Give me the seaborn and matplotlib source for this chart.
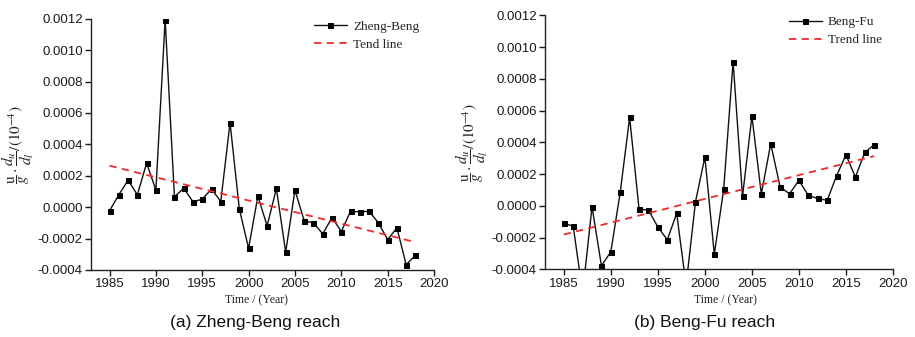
import numpy as np
import pandas as pd
import matplotlib
matplotlib.use("Agg")
import matplotlib.pyplot as plt
import seaborn as sns

# ---------------- data ----------------
years = list(range(1985, 2019))

zheng_beng = [-0.000023, 0.000079, 0.000172, 0.000079, 0.000281, 0.000109, 0.001194,
              0.000066, 0.000121, 0.000034, 0.000051, 0.000115, 0.000036, 0.000538,
              -0.000011, -0.000262, 0.000070, -0.000119, 0.000119, -0.000287, 0.000109,
              -0.000087, -0.000100, -0.000170, -0.000066, -0.000155, -0.000026, -0.000030,
              -0.000026, -0.000100, -0.000206, -0.000132, -0.000366, -0.000306]

beng_fu = [-0.000111, -0.000128, -0.000550, -0.000006, -0.000378, -0.000290, 0.000086,
           0.000557, -0.000021, -0.000027, -0.000134, -0.000214, -0.000048, -0.000500,
           0.000025, 0.000307, -0.000305, 0.000105, 0.000908, 0.000059, 0.000565,
           0.000074, 0.000391, 0.000118, 0.000076, 0.000160, 0.000065, 0.000046,
           0.000034, 0.000189, 0.000321, 0.000181, 0.000336, 0.000384]

trend_years = [1985, 2018]
trend_zb = [0.000264, -0.000223]
trend_bf = [-0.000181, 0.000313]

xtick_values = [1985, 1990, 1995, 2000, 2005, 2010, 2015, 2020]
xtick_labels = ["1985", "1990", "1995", "2000", "2005", "2010", "2015", "2020"]
ytick_values = [-0.0004, -0.0002, 0.0, 0.0002, 0.0004, 0.0006, 0.0008, 0.0010, 0.0012]
ytick_labels = ["-0.0004", "-0.0002", "0.0000", "0.0002", "0.0004", "0.0006",
                "0.0008", "0.0010", "0.0012"]

series_names = ["Zheng-Beng", "Beng-Fu"]
trend_names = ["Tend line", "Trend line"]
captions = ["(a) Zheng-Beng reach", "(b) Beng-Fu reach"]
xlabel_text = "Time / (Year)"
ylabel_text = r"$\dfrac{\mathrm{u}}{g}\cdot\dfrac{d_u}{d_l}/(10^{-4})$"

# ---------------- style ----------------
sns.set_style("ticks")
plt.rcParams["font.family"] = ["Liberation Sans", "DejaVu Sans"]
plt.rcParams["mathtext.fontset"] = "stix"
plt.rcParams["axes.unicode_minus"] = False

fig = plt.figure(figsize=(9.15, 3.37), dpi=100)
W, H = 915, 337

def px_axes(l, r, t, b):
    return fig.add_axes([l / W, 1 - b / H, (r - l) / W, (b - t) / H])

axes = [px_axes(91, 434, 18.7, 270), px_axes(545, 893, 15.3, 269.3)]
series = [zheng_beng, beng_fu]
trends = [trend_zb, trend_bf]
legend_pos = [(314, 20.5), (789, 16.0)]
caption_x = [255, 705]
xlabel_x = [256, 725]

for i, ax in enumerate(axes):
    df = pd.DataFrame({"year": years, "value": series[i]})
    sns.lineplot(data=df, x="year", y="value", ax=ax, color="#111111",
                 linewidth=1.0, marker="s", markersize=3.6,
                 markeredgecolor="black", markerfacecolor="black",
                 label=series_names[i], clip_on=True)
    tdf = pd.DataFrame({"year": trend_years, "value": trends[i]})
    sns.lineplot(data=tdf, x="year", y="value", ax=ax, color="#ee2a2a",
                 linewidth=1.3, dashes=False, label=trend_names[i])
    ax.lines[-1].set_dashes((4, 3))

    ax.set_xlim(1983, 2020)
    ax.set_ylim(-0.0004, 0.0012)
    ax.set_xticks(xtick_values)
    ax.set_xticklabels(xtick_labels)
    ax.set_yticks(ytick_values)
    ax.set_yticklabels(ytick_labels)
    ax.tick_params(axis="both", direction="out", length=4, width=1,
                   labelsize=9.5, colors="#1a1a1a", pad=2)
    for s in ["top", "right"]:
        ax.spines[s].set_visible(False)
    for s in ["left", "bottom"]:
        ax.spines[s].set_linewidth(1.0)
        ax.spines[s].set_color("#222222")
    ax.set_xlabel("")
    ax.set_ylabel(ylabel_text, fontsize=11, labelpad=1, color="#222222")

    lx, ly = legend_pos[i]
    ax.legend(loc="upper left", bbox_to_anchor=(lx / W, 1 - ly / H),
              bbox_transform=fig.transFigure, frameon=False,
              prop={"family": "Liberation Serif", "size": 9.5},
              handlelength=2.5, handletextpad=0.45, labelspacing=0.45,
              borderpad=0, borderaxespad=0)

    fig.text(xlabel_x[i] / W, 1 - 300 / H, xlabel_text, ha="center", va="center",
             fontsize=8.5, family="Liberation Serif", color="#222222")
    fig.text(caption_x[i] / W, 1 - 322 / H, captions[i], ha="center", va="center",
             fontsize=12.5, color="#111111")

fig.savefig("out.png", dpi=100)
